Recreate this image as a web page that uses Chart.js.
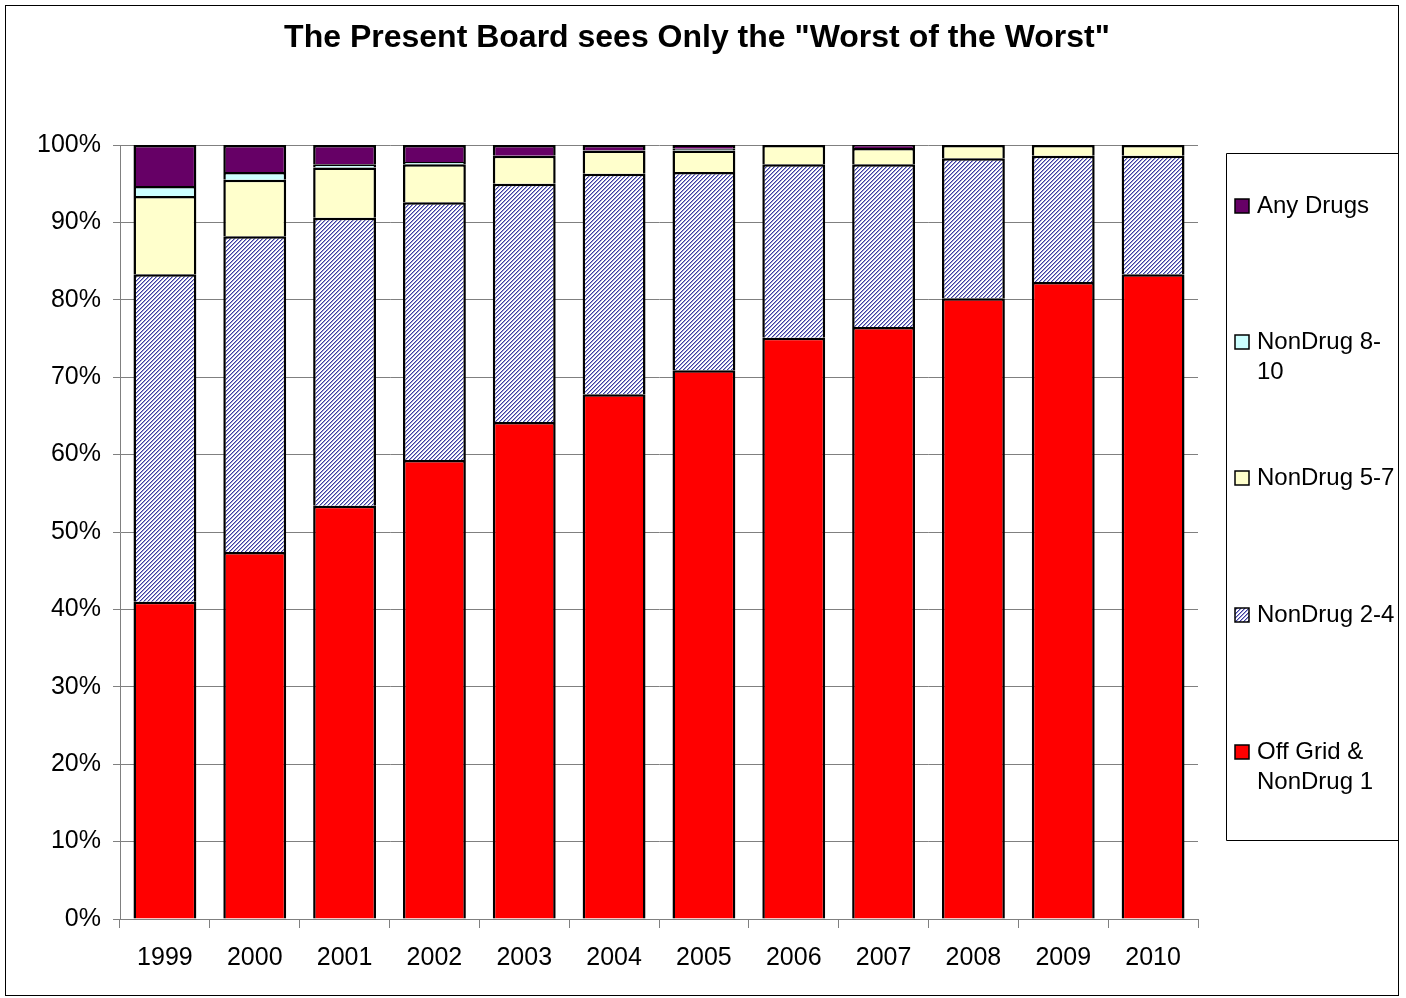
<!DOCTYPE html>
<html>
<head>
<meta charset="utf-8">
<script src="https://cdn.jsdelivr.net/npm/chart.js@4.4.3/dist/chart.umd.min.js"></script>
<style>
  html, body { margin: 0; padding: 0; background: #fff; }
  #wrap { width: 1406px; height: 998px; position: relative; }
</style>
</head>
<body>
<div id="wrap"><canvas id="chart" width="1406" height="998"></canvas></div>
<script>
const years = ["1999", "2000", "2001", "2002", "2003", "2004", "2005", "2006", "2007", "2008", "2009", "2010"];
const offGrid = [41.0, 47.4, 53.4, 59.3, 64.2, 67.8, 70.9, 75.1, 76.5, 80.2, 82.3, 83.3];
const nonDrug24 = [42.3, 40.8, 37.2, 33.3, 30.8, 28.5, 25.6, 22.4, 21.0, 18.1, 16.3, 15.3];
const nonDrug57 = [10.1, 7.3, 6.5, 4.9, 3.6, 3.0, 2.8, 2.5, 2.1, 1.7, 1.4, 1.4];
const nonDrug810 = [1.3, 1.0, 0.4, 0.3, 0.0, 0.0, 0.2, 0.0, 0.0, 0.0, 0.0, 0.0];
const anyDrugs = [5.3, 3.5, 2.5, 2.2, 1.4, 0.7, 0.5, 0.0, 0.4, 0.0, 0.0, 0.0];
const yTicks = [0, 10, 20, 30, 40, 50, 60, 70, 80, 90, 100];
const titleText = 'The Present Board sees Only the "Worst of the Worst"';
const FONT = "'Liberation Sans', Arial, sans-serif";

function hatchPattern() {
  const c = document.createElement("canvas");
  c.width = 4; c.height = 4;
  const g = c.getContext("2d");
  g.fillStyle = "#ffffff";
  g.fillRect(0, 0, 4, 4);
  for (let x = 0; x < 4; x++) {
    for (let y = 0; y < 4; y++) {
      const k = (x + y) % 4;
      if (k === 0) { g.fillStyle = "#3b3ba0"; g.fillRect(x, y, 1, 1); }
      if (k === 1) { g.fillStyle = "#a0a0d4"; g.fillRect(x, y, 1, 1); }
    }
  }
  return g.createPattern(c, "repeat");
}

const hatch = hatchPattern();
const ctx = document.getElementById("chart").getContext("2d");

// outer frame, title and the clipped legend box on the right
const framePlugin = {
  id: "frame",
  beforeDraw(chart) {
    const g = chart.ctx;
    g.save();
    g.fillStyle = "#fff";
    g.fillRect(0, 0, chart.width, chart.height);
    g.restore();
  },
  afterDraw(chart) {
    const g = chart.ctx;
    g.save();
    g.fillStyle = "#000";
    g.font = "bold 32px " + FONT;
    g.textAlign = "center";
    g.textBaseline = "middle";
    g.fillText(titleText, 697, 38);

    g.strokeStyle = "#000";
    g.lineWidth = 1;
    g.strokeRect(5.5, 5.5, 1393, 990);
    g.beginPath();
    g.rect(0, 0, 1398, chart.height);
    g.clip();
    g.beginPath();
    g.rect(1226.5, 153.5, 180, 687);
    g.stroke();
    g.font = "24px " + FONT;
    g.textAlign = "left";
    const rows = [206, 342, 478, 615, 752];
    const sets = chart.data.datasets.slice().reverse();
    sets.forEach((ds, i) => {
      const y = rows[i];
      g.fillStyle = ds.backgroundColor;
      g.fillRect(1235, y - 7, 14, 14);
      g.strokeStyle = "#000";
      g.lineWidth = 1.5;
      g.strokeRect(1235, y - 7, 14, 14);
      g.fillStyle = "#000";
      const lines = Array.isArray(ds.label) ? ds.label : [ds.label];
      lines.forEach((t, j) => g.fillText(t, 1257, y + j * 30));
    });
    g.restore();
  }
};

new Chart(ctx, {
  type: "bar",
  data: {
    labels: years,
    datasets: [
      { label: ["Off Grid &", "NonDrug 1"], data: offGrid, backgroundColor: "#ff0000" },
      { label: "NonDrug 2-4", data: nonDrug24, backgroundColor: hatch },
      { label: "NonDrug 5-7", data: nonDrug57, backgroundColor: "#ffffcc" },
      { label: ["NonDrug 8-", "10"], data: nonDrug810, backgroundColor: "#ccffff" },
      { label: "Any Drugs", data: anyDrugs, backgroundColor: "#660066" }
    ].map(d => Object.assign(d, {
      borderColor: "#000",
      borderWidth: { top: 2.5, left: 2.5, right: 2.5, bottom: 0 },
      borderSkipped: false,
      barPercentage: 0.7, categoryPercentage: 1
    }))
  },
  options: {
    responsive: false,
    animation: false,
    layout: { padding: { left: 0, right: 208, top: 145, bottom: 0 } },
    plugins: {
      legend: { display: false },
      tooltip: { enabled: false },
      title: { display: false }
    },
    scales: {
      x: {
        stacked: true,
        afterFit(s) { s.height = 79; },
        grid: { display: true, drawOnChartArea: false, drawTicks: true, tickLength: 9, color: "#808080", offset: true },
        border: { color: "#808080", width: 1 },
        ticks: { color: "#000", padding: 15, font: { family: FONT, size: 25 } }
      },
      y: {
        stacked: true,
        min: 0,
        max: 100,
        afterFit(s) { s.width = 120; },
        afterBuildTicks(s) { s.ticks = yTicks.map(v => ({ value: v })); },
        grid: { color: "#808080", lineWidth: 1, tickLength: 7 },
        border: { color: "#808080", width: 1 },
        ticks: {
          color: "#000",
          padding: 12,
          font: { family: FONT, size: 25 },
          callback: v => v + "%"
        }
      }
    }
  },
  plugins: [framePlugin]
});
</script>
</body>
</html>
